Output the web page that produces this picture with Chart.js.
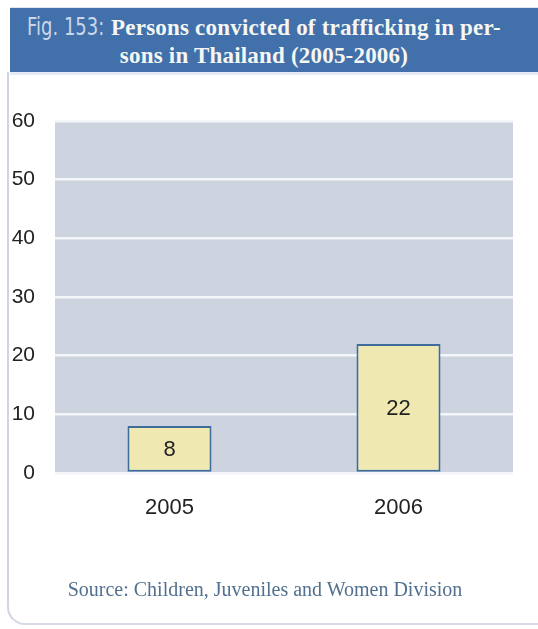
<!DOCTYPE html>
<html>
<head>
<meta charset="utf-8">
<script src="https://cdn.jsdelivr.net/npm/chart.js@4.4.1/dist/chart.umd.min.js"></script>
<style>
  html, body { margin: 0; padding: 0; background: #ffffff; }
  body { width: 538px; height: 629px; position: relative; overflow: hidden; }
  #frame { position: absolute; left: 7px; top: 72px; width: 560px; height: 551px;
           border-left: 2px solid #cfd5e4; border-bottom: 2px solid #d6dbe6;
           border-bottom-left-radius: 18px; }
  #banner { position: absolute; left: 10px; top: 7px; width: 528px; height: 64px;
            background: #4170aa; border-top: 1px solid #dfe6f0; border-bottom: 3px solid #e6ecf4; }
  #title { position: absolute; left: 0; top: 13px; width: 528px; text-align: center;
           font-family: "Liberation Serif", "DejaVu Serif", serif; font-weight: bold;
           font-size: 23px; line-height: 28px; letter-spacing: 0.2px; color: #f6f6f2; white-space: nowrap; }
  #title .fig { display: inline-block; width: 78px; text-align: left; vertical-align: baseline;
                font-family: "DejaVu Sans", sans-serif; font-weight: normal; font-size: 25px; letter-spacing: 0;
                color: #cad7e9; transform: scaleX(0.72); transform-origin: 0 50%; margin-right: 6px; }
  #source { position: absolute; left: 0; top: 578px; width: 530px; text-align: center;
            font-family: "Liberation Serif", "DejaVu Serif", serif; font-size: 20px; color: #51708f; }
  #chart { position: absolute; left: 0; top: 0; }
</style>
</head>
<body>
<div id="frame"></div>
<div id="banner"></div>
<div id="title"><span class="fig">Fig. 153:</span>Persons convicted of trafficking in per-<br>sons in Thailand (2005-2006)</div>
<canvas id="chart" width="538" height="629"></canvas>
<div id="source">Source: Children, Juveniles and Women Division</div>
<script>
const categories = ['2005', '2006'];
const convicted = [8, 22];
const yTicks = [0, 10, 20, 30, 40, 50, 60];

const plotBg = {
  id: 'plotBg',
  beforeDraw(chart) {
    const { ctx, chartArea: a } = chart;
    ctx.save();
    ctx.fillStyle = '#cdd4e0';
    ctx.fillRect(a.left, a.top, a.right - a.left, a.bottom - a.top);
    ctx.restore();
  }
};

const barLabels = {
  id: 'barLabels',
  afterDatasetsDraw(chart) {
    const { ctx } = chart;
    const meta = chart.getDatasetMeta(0);
    ctx.save();
    ctx.font = '22px "Liberation Sans", Arial, sans-serif';
    ctx.fillStyle = '#222222';
    ctx.textAlign = 'center';
    ctx.textBaseline = 'middle';
    meta.data.forEach((bar, i) => {
      ctx.fillText(String(convicted[i]), bar.x, (bar.y + bar.base) / 2 + 1);
    });
    ctx.restore();
  }
};

new Chart(document.getElementById('chart'), {
  type: 'bar',
  data: {
    labels: categories,
    datasets: [{
      data: convicted,
      backgroundColor: '#efe8b1',
      borderColor: '#3e6d9c',
      borderWidth: 2,
      borderSkipped: false,
      barPercentage: 0.367,
      categoryPercentage: 1.0
    }]
  },
  options: {
    responsive: false,
    animation: false,
    layout: { padding: { top: 121, bottom: 96, left: 0, right: 25 } },
    plugins: { legend: { display: false }, tooltip: { enabled: false } },
    scales: {
      x: {
        grid: { display: false, drawTicks: false },
        border: { display: false },
        ticks: { padding: 22, color: '#222222', font: { family: '"Liberation Sans", Arial, sans-serif', size: 22 } },
        afterFit(scale) { scale.height = 60; }
      },
      y: {
        min: 0, max: 60,
        afterBuildTicks(scale) { scale.ticks = yTicks.map(v => ({ value: v })); },
        grid: { color: '#f4f6fa', lineWidth: 2.5, drawTicks: false },
        border: { display: false },
        ticks: { padding: 20, color: '#222222', font: { family: '"Liberation Sans", Arial, sans-serif', size: 21 } },
        afterFit(scale) { scale.width = 55; }
      }
    }
  },
  plugins: [plotBg, barLabels]
});
</script>
</body>
</html>
